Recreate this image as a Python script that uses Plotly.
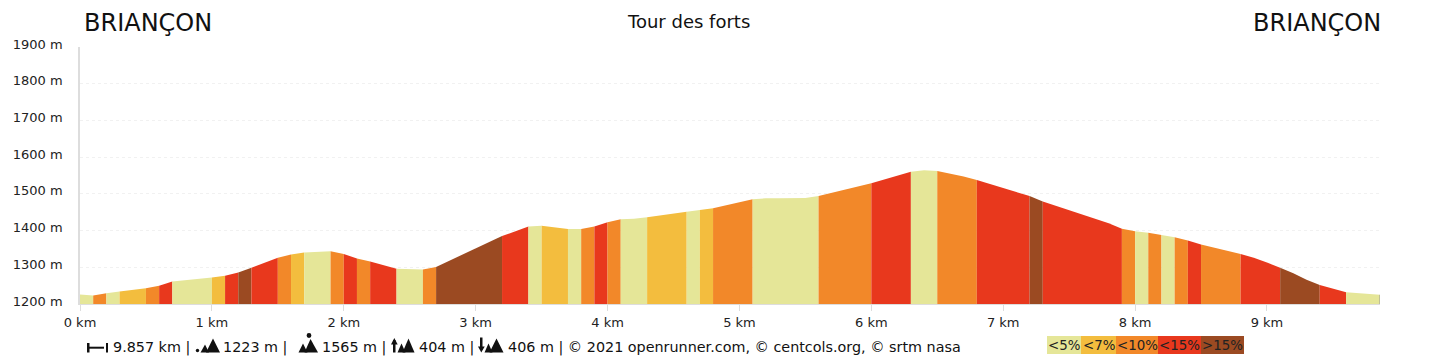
import plotly.graph_objects as go

# Profile: distance (km) and elevation (m)
km = [0, 0.1, 0.2, 0.3, 0.4, 0.5, 0.6, 0.7, 0.8, 0.9, 1.0, 1.1, 1.2, 1.3, 1.4, 1.5, 1.6, 1.7, 1.8, 1.9,
      2.0, 2.1, 2.2, 2.3, 2.4, 2.5, 2.6, 2.7, 2.8, 2.9, 3.0, 3.1, 3.2, 3.3, 3.4, 3.5, 3.6, 3.7, 3.8, 3.9,
      4.0, 4.1, 4.2, 4.3, 4.4, 4.5, 4.6, 4.7, 4.8, 4.9, 5.0, 5.1, 5.2, 5.3, 5.4, 5.5, 5.6, 5.7, 5.8, 5.9,
      6.0, 6.1, 6.2, 6.3, 6.4, 6.5, 6.6, 6.7, 6.8, 6.9, 7.0, 7.1, 7.2, 7.3, 7.4, 7.5, 7.6, 7.7, 7.8, 7.9,
      8.0, 8.1, 8.2, 8.3, 8.4, 8.5, 8.6, 8.7, 8.8, 8.9, 9.0, 9.1, 9.2, 9.3, 9.4, 9.5, 9.6, 9.857]
elevation = [1226, 1223, 1229, 1234, 1238, 1243, 1250, 1261, 1265, 1269, 1272, 1277, 1286, 1299, 1312, 1326, 1335, 1340, 1342, 1344,
             1336, 1324, 1316, 1306, 1296, 1295, 1294, 1301, 1318, 1335, 1351, 1367, 1385, 1399, 1411, 1413, 1409, 1404, 1404, 1411,
             1423, 1431, 1432, 1436, 1441, 1446, 1451, 1456, 1461, 1469, 1477, 1485, 1488, 1488, 1488, 1489, 1494, 1503, 1512, 1520,
             1529, 1539, 1550, 1560, 1564, 1562, 1555, 1547, 1538, 1527, 1516, 1505, 1494, 1479, 1467, 1456, 1442, 1432, 1420, 1405,
             1398, 1394, 1388, 1382, 1373, 1362, 1354, 1345, 1336, 1326, 1313, 1299, 1284, 1266, 1252, 1241, 1232, 1225]
# Slope class of each stretch between two consecutive profile points
slope_class = ["a", "c", "a", "b", "b", "c", "d", "a", "a", "a", "b", "d", "e", "d", "d", "c", "b", "a", "a",
               "c", "d", "c", "d", "d", "a", "a", "c", "e", "e", "e", "e", "e", "d", "d", "a", "b", "b", "a", "c",
               "d", "c", "a", "a", "b", "b", "b", "a", "b", "c", "c", "c", "a", "a", "a", "a", "a", "c", "c", "c",
               "c", "d", "d", "d", "a", "a", "c", "c", "c", "d", "d", "d", "d", "e", "d", "d", "d", "d", "d", "d",
               "c", "a", "c", "a", "c", "d", "c", "c", "c", "d", "d", "d", "e", "e", "e", "d", "d", "a"]
class_keys = ["a", "b", "c", "d", "e"]
class_labels = ["&lt;5%", "&lt;7%", "&lt;10%", "&lt;15%", "&gt;15%"]
class_colors = ["#E5E698", "#F3BD3E", "#F28829", "#E8381D", "#9B4A22"]
legend_edges = [1047, 1081, 1116, 1158, 1201, 1244]

y_ticks = [1200, 1300, 1400, 1500, 1600, 1700, 1800, 1900]
x_ticks = [0, 1, 2, 3, 4, 5, 6, 7, 8, 9]

W, H = 1440, 360
L, R, T, B = 80, 60, 47, 56
FONT = "DejaVu Sans"


def fx(p):
    return (p - L) / (W - L - R)


def fy(p):
    return 1 - (p - T) / (H - T - B)


fig = go.Figure()
color_of = dict(zip(class_keys, class_colors))
start = 0
for i, cls in enumerate(slope_class):
    if i + 1 == len(slope_class) or slope_class[i + 1] != cls:
        fig.add_trace(go.Scatter(
            x=km[start:i + 2], y=elevation[start:i + 2],
            mode="lines", line=dict(width=0), fill="tozeroy",
            fillcolor=color_of[cls], showlegend=False, hoverinfo="skip"))
        start = i + 1
fig.add_trace(go.Scatter(x=[km[-1], km[-1]], y=[1200, elevation[-1]], mode="lines",
                         line=dict(color="#999999", width=1), showlegend=False, hoverinfo="skip"))

shapes = []
annotations = []


def text(s, x, y, size, anchor="left", color="#111111", **kw):
    annotations.append(dict(text=s, x=fx(x), y=fy(y), xref="paper", yref="paper", showarrow=False,
                            xanchor=anchor, yanchor="middle", borderpad=0, borderwidth=0,
                            font=dict(family=FONT, size=size, color=color), **kw))


def tri(x0, x1, apex, top, base):
    shapes.append(dict(type="path", xref="paper", yref="paper", line=dict(width=0), fillcolor="#111111", layer="above",
                       path=f"M {fx(x0)} {fy(base)} L {fx(apex)} {fy(top)} L {fx(x1)} {fy(base)} Z"))


def rect(x0, y0, x1, y1):
    shapes.append(dict(type="rect", xref="paper", yref="paper", line=dict(width=0), fillcolor="#111111", layer="above",
                       x0=fx(x0), x1=fx(x1), y0=fy(y1), y1=fy(y0)))


def dot(cx, cy, r):
    shapes.append(dict(type="circle", xref="paper", yref="paper", line=dict(width=0), fillcolor="#111111", layer="above",
                       x0=fx(cx - r), x1=fx(cx + r), y0=fy(cy + r), y1=fy(cy - r)))


# Titles
text("BRIANÇON", 84, 23, 24)
text("BRIANÇON", 1380.5, 23, 24, anchor="right")
text("Tour des forts", 688, 22, 18, anchor="center")

# Footer texts
text("9.857 km |", 113, 347.5, 14.35)
text("1223 m |", 223, 347.5, 14.35)
text("1565 m |", 322, 347.5, 14.35)
text("404 m |", 419, 347.5, 14.35)
text("406 m | © 2021 openrunner.com, © centcols.org, © srtm nasa", 508, 347.5, 14.35)

# Footer icons
rect(87, 343, 89.5, 352.5)
rect(89, 346.7, 104, 348.7)
rect(106, 343, 108, 352.5)
dot(197.5, 350.5, 1.7)
tri(200.5, 209, 205, 344.5, 352.5)
tri(206, 220, 213, 338.5, 352.5)
dot(309, 335.5, 2.4)
tri(298.5, 307.5, 303, 343.5, 352.5)
tri(304.5, 318, 310.5, 339, 352.5)
rect(393, 340, 395.5, 352.5)
tri(391, 397.7, 394.3, 338, 344.5)
tri(397.5, 405.5, 401.5, 343.5, 352.5)
tri(402.5, 414.5, 408.5, 338.5, 352.5)
rect(480, 337.5, 482.5, 350)
tri(478, 484.7, 481.3, 352.5, 346.5)
tri(484.5, 492.5, 488.5, 343.5, 352.5)
tri(489.5, 503.5, 496.5, 338.5, 352.5)

# Slope legend
for i, lab in enumerate(class_labels):
    x0, x1 = legend_edges[i], legend_edges[i + 1]
    shapes.append(dict(type="rect", xref="paper", yref="paper", line=dict(width=0), fillcolor=class_colors[i],
                       x0=fx(x0), x1=fx(x1), y0=fy(354), y1=fy(336)))
    text(lab, (x0 + x1) / 2, 345, 13.4, anchor="center", color="#222222")

fig.update_layout(
    width=W, height=H, margin=dict(l=L, r=R, t=T, b=B), paper_bgcolor="white", plot_bgcolor="white",
    showlegend=False, shapes=shapes, annotations=annotations, font=dict(family=FONT, size=13, color="#222222"),
    xaxis=dict(range=[0, km[-1]], tickvals=x_ticks, ticktext=[f"{v} km" for v in x_ticks],
               showgrid=False, zeroline=False, showline=True, linecolor="#dddddd", linewidth=1,
               ticks="outside", ticklen=6, tickcolor="#dddddd", tickfont=dict(size=13)),
    yaxis=dict(range=[1200, 1900], tickvals=y_ticks, ticktext=[f"{v} m" for v in y_ticks],
               showgrid=True, gridcolor="#f1f1f1", griddash="dot", gridwidth=1, zeroline=False,
               showline=True, linecolor="#dddddd", linewidth=1.5,
               ticks="outside", ticklen=13, tickcolor="rgba(0,0,0,0)", ticklabelshift=-3, tickfont=dict(size=13)),
)

fig.write_html("out.html", config={"displayModeBar": False}, post_script="document.body.style.margin='0';")
